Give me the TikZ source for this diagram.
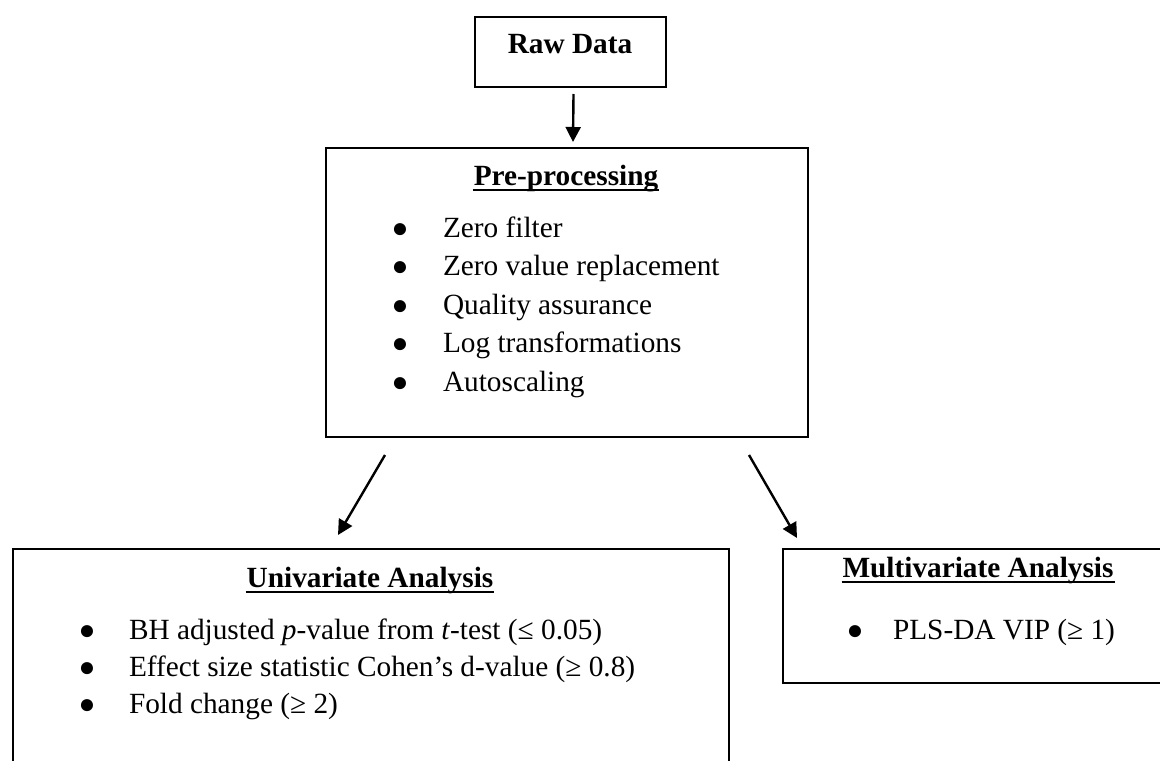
\documentclass[tikz,border=0pt]{standalone}
\usepackage{fontspec}
\setmainfont{Liberation Serif}
\usetikzlibrary{arrows.meta,calc}
\newcommand\figfont{\fontsize{14.65}{18}\selectfont}

\begin{document}
\begin{tikzpicture}[x=0.5pt,y=-0.5pt,line width=1pt]
	    \tikzset{>={Triangle[length=7.5pt,width=7.5pt]}}
	    \tikzset{box/.style={draw,anchor=north west,inner sep=0pt}}
	    \tikzset{head/.style={anchor=base,inner sep=0pt,font=\figfont\bfseries}}
	    \tikzset{item/.style={anchor=base west,inner sep=0pt,font=\figfont}}
	    \tikzset{dot/.style={anchor=base,inner sep=0pt,font=\fontsize{14}{16}\selectfont,yshift=-0.2pt}}
	    \useasboundingbox (0,0) rectangle (1160,760);
	    \clip (0,0) rectangle (1160,760);
	    % boxes
	    \node[box,minimum width=95.5pt,minimum height=35pt] (raw) at (474,16) {};
	    \node[box,minimum width=241pt,minimum height=144.5pt] (pre) at (325,147) {};
	    \node[box,minimum width=358pt,minimum height=125pt] (uni) at (12,548) {};
	    \node[box,minimum width=196pt,minimum height=67pt] (mul) at (782,548) {};
	    % headings
	    \node[head] (hraw) at (570,53) {Raw Data};
	    \node[head] (hpre) at (566,185) {Pre-processing};
	    \node[head] (huni) at (370,587) {Univariate Analysis};
	    \node[head] (hmul) at (978,577) {Multivariate Analysis};
	    \foreach \n in {hpre,huni,hmul}
	        \draw[line width=0.8pt] ($(\n.base west)+(0,5)$) -- ($(\n.base east)+(0,5)$);
	    % bullet lists
	    \foreach \t [count=\i] in {Zero filter, Zero value replacement, Quality assurance,
	            Log transformations, Autoscaling} {
	        \node[dot] (pb\i) at (400,237+38.5*\i-38.5) {●};
	        \node[item] (pt\i) at (442,237+38.5*\i-38.5) {\t};
	    }
	    \foreach \t [count=\i] in {BH adjusted \textit{p}-value from \textit{t}-test (≤ 0.05),
	            Effect size statistic Cohen’s d-value (≥ 0.8), Fold change (≥ 2)} {
	        \node[dot] (ub\i) at (87,639+37*\i-37) {●};
	        \node[item] (ut\i) at (128,639+37*\i-37) {\t};
	    }
	    \node[dot] (mb1) at (855,639) {●};
	    \node[item] (mt1) at (892,639) {PLS-DA VIP (≥ 1)};
	    % arrows
	    \draw[->,line width=1.2pt] ($(raw.south)+(3,6)$) -- ($(pre.north)+(6,-5)$);
	    \draw[->,line width=1.2pt] ($(pre.south west)+(60,17)$) -- ($(uni.north west)+(326,-13)$);
	    \draw[->,line width=1.2pt] ($(pre.south east)+(-60,17)$) -- ($(mul.north west)+(15,-10)$);
\end{tikzpicture}
\end{document}
